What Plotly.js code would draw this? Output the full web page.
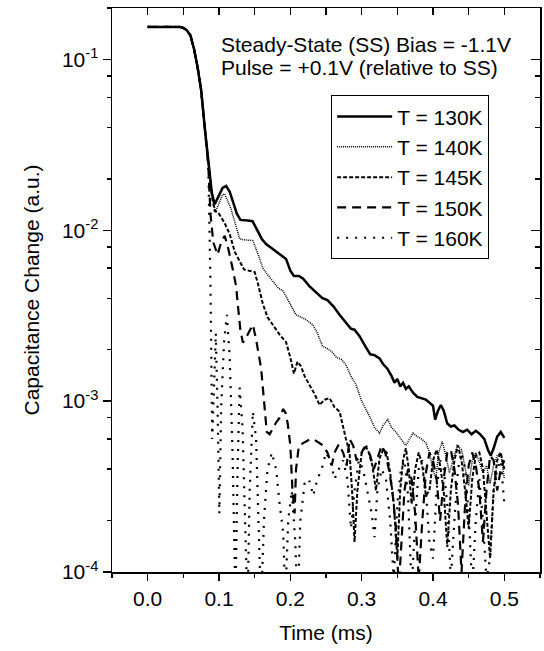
<!DOCTYPE html>
<html>
<head>
<meta charset="utf-8">
<script src="https://cdn.plot.ly/plotly-3.0.1.min.js"></script>
<style>html,body{margin:0;padding:0;background:#fff;}#chart{width:544px;height:651px;}</style>
</head>
<body>
<div id="chart"></div>
<script>
// ---- data (time in ms, capacitance change in a.u.) ----
var t130 = [0,0.01,0.02,0.03,0.04,0.045,0.05,0.055,0.06,0.065,0.07,0.075,0.08,0.085,0.09,0.094,0.1,0.105,0.11,0.115,0.12,0.125,0.13,0.135,0.14,0.147,0.155,0.16,0.166,0.175,0.185,0.194,0.2,0.205,0.212,0.218,0.227,0.235,0.245,0.252,0.26,0.269,0.278,0.285,0.29,0.297,0.305,0.312,0.318,0.325,0.33,0.336,0.342,0.346,0.35,0.354,0.358,0.362,0.366,0.372,0.378,0.384,0.39,0.395,0.4,0.403,0.407,0.411,0.415,0.42,0.425,0.43,0.436,0.442,0.448,0.454,0.46,0.466,0.472,0.477,0.481,0.485,0.49,0.495,0.5];
var c130 = [0.155,0.155,0.155,0.155,0.155,0.155,0.153,0.148,0.138,0.115,0.09,0.066,0.04,0.025,0.0165,0.0142,0.016,0.0177,0.0182,0.0168,0.0145,0.0125,0.0115,0.0114,0.0114,0.0113,0.0098,0.0089,0.0083,0.0078,0.0073,0.0068,0.0058,0.0054,0.0054,0.0052,0.0047,0.0044,0.0040,0.0039,0.0036,0.0032,0.0029,0.00265,0.00262,0.0024,0.0021,0.00188,0.00186,0.00178,0.00165,0.00155,0.0014,0.00128,0.00135,0.00122,0.00128,0.00118,0.00122,0.00112,0.00106,0.00104,0.00102,0.00098,0.00094,0.00078,0.00088,0.00095,0.00088,0.00074,0.00071,0.00072,0.00068,0.00066,0.00068,0.00064,0.00067,0.00064,0.0006,0.00052,0.00048,0.00053,0.00062,0.00066,0.00061];

var t140 = [0,0.01,0.02,0.03,0.04,0.045,0.05,0.055,0.06,0.065,0.07,0.075,0.08,0.085,0.09,0.095,0.1,0.105,0.108,0.112,0.117,0.12,0.124,0.129,0.135,0.1475,0.155,0.1615,0.168,0.1755,0.183,0.19,0.2,0.208,0.215,0.222,0.2315,0.238,0.245,0.25,0.258,0.265,0.272,0.278,0.285,0.292,0.3,0.306,0.312,0.318,0.325,0.33,0.3366,0.342,0.348,0.355,0.362,0.367,0.372,0.378,0.384,0.39,0.395,0.4,0.404,0.408,0.413,0.418,0.423,0.428,0.434,0.44,0.445,0.45,0.455,0.46,0.465,0.47,0.475,0.48,0.485,0.49,0.495,0.5];
var c140 = [0.155,0.155,0.155,0.155,0.155,0.155,0.153,0.148,0.138,0.115,0.09,0.066,0.04,0.025,0.0162,0.0128,0.0145,0.0162,0.0163,0.015,0.0133,0.012,0.0104,0.0089,0.0088,0.0087,0.0072,0.0060,0.0055,0.0050,0.0046,0.0044,0.0037,0.0032,0.0031,0.0030,0.0028,0.0025,0.0021,0.00205,0.00195,0.0018,0.00175,0.00163,0.0014,0.00125,0.0010,0.0009,0.0008,0.0007,0.00065,0.00072,0.00078,0.0007,0.00066,0.0006,0.00055,0.0006,0.00065,0.00062,0.0006,0.00057,0.0005,0.0004,0.00035,0.0005,0.00058,0.00048,0.00038,0.00045,0.00055,0.00052,0.0004,0.00032,0.00045,0.0005,0.00044,0.00038,0.00042,0.00033,0.00042,0.00048,0.0005,0.00035];

var t145 = [0,0.01,0.02,0.03,0.04,0.045,0.05,0.055,0.06,0.065,0.07,0.075,0.08,0.085,0.09,0.094,0.1,0.108,0.115,0.122,0.129,0.135,0.142,0.15,0.155,0.1615,0.168,0.175,0.185,0.194,0.2,0.205,0.21,0.215,0.22,0.227,0.234,0.241,0.248,0.255,0.262,0.269,0.274,0.278,0.283,0.287,0.29,0.294,0.3,0.305,0.31,0.315,0.32,0.325,0.33,0.335,0.34,0.345,0.35,0.354,0.358,0.362,0.366,0.37,0.375,0.38,0.385,0.39,0.395,0.4,0.405,0.41,0.415,0.42,0.425,0.43,0.435,0.44,0.445,0.45,0.455,0.46,0.465,0.47,0.475,0.48,0.485,0.49,0.495,0.5];
var c145 = [0.155,0.155,0.155,0.155,0.155,0.155,0.153,0.148,0.138,0.115,0.09,0.066,0.04,0.025,0.0158,0.013,0.0125,0.011,0.0095,0.0075,0.0066,0.0059,0.0058,0.0057,0.0048,0.0037,0.0031,0.0028,0.00245,0.00222,0.0018,0.00145,0.0017,0.0016,0.0014,0.00124,0.0011,0.00095,0.00102,0.00104,0.00092,0.00087,0.0007,0.0006,0.0005,0.00028,0.00015,0.0003,0.0005,0.00055,0.0005,0.00042,0.0003,0.00046,0.00052,0.0005,0.00038,0.00025,0.00012,0.0003,0.00045,0.00053,0.0004,0.00025,0.0004,0.0005,0.00042,0.00028,0.0003,0.00045,0.00052,0.00042,0.0003,0.00014,0.0003,0.00045,0.00055,0.00045,0.0003,0.00018,0.00035,0.00048,0.0005,0.0004,0.00022,0.00012,0.0003,0.00045,0.0005,0.0004];

var t150 = [0,0.01,0.02,0.03,0.04,0.045,0.05,0.055,0.06,0.065,0.07,0.075,0.08,0.085,0.088,0.092,0.098,0.103,0.108,0.113,0.119,0.124,0.1266,0.13,0.1335,0.139,0.1475,0.152,0.159,0.164,0.167,0.171,0.1755,0.18,0.185,0.19,0.1935,0.1965,0.2,0.203,0.206,0.208,0.212,0.218,0.225,0.232,0.24,0.246,0.252,0.258,0.262,0.268,0.274,0.279,0.283,0.288,0.293,0.297,0.302,0.307,0.312,0.317,0.322,0.328,0.333,0.338,0.343,0.348,0.352,0.356,0.36,0.365,0.37,0.375,0.38,0.385,0.39,0.395,0.4,0.405,0.41,0.415,0.42,0.425,0.43,0.435,0.44,0.445,0.45,0.455,0.46,0.465,0.47,0.475,0.48,0.485,0.49,0.495,0.5];
var c150 = [0.155,0.155,0.155,0.155,0.155,0.155,0.153,0.148,0.138,0.115,0.09,0.066,0.04,0.024,0.0125,0.0085,0.0072,0.0085,0.0093,0.0078,0.006,0.0047,0.0036,0.0026,0.0022,0.0024,0.0028,0.0023,0.00156,0.0009,0.00066,0.00064,0.0007,0.00075,0.0008,0.0009,0.00085,0.00073,0.00055,0.0003,0.00022,0.0004,0.00055,0.00057,0.00059,0.0006,0.00057,0.00055,0.0005,0.00042,0.0005,0.00056,0.0005,0.00042,0.0006,0.00055,0.00045,0.00047,0.00052,0.00054,0.00048,0.0004,0.00046,0.00055,0.0005,0.0004,0.0003,0.00018,0.00008,0.00015,0.0003,0.0004,0.00035,0.00022,0.00009,0.0002,0.00038,0.0005,0.00045,0.00035,0.0002,0.00035,0.0005,0.00052,0.0004,0.00025,0.0001,0.00025,0.00042,0.0005,0.00042,0.0003,0.00015,0.0003,0.00048,0.00045,0.0003,0.0004,0.00045];

var t160 = [0,0.01,0.02,0.03,0.04,0.045,0.05,0.055,0.06,0.065,0.07,0.075,0.08,0.085,0.088,0.0905,0.093,0.0955,0.098,0.1005,0.103,0.107,0.111,0.115,0.119,0.123,0.126,0.129,0.133,0.137,0.14,0.143,0.1475,0.152,0.156,0.159,0.163,0.168,0.174,0.18,0.185,0.19,0.193,0.197,0.202,0.207,0.21,0.214,0.22,0.226,0.232,0.238,0.244,0.25,0.256,0.262,0.268,0.274,0.28,0.285,0.29,0.296,0.302,0.308,0.314,0.318,0.322,0.328,0.334,0.34,0.345,0.35,0.355,0.36,0.365,0.37,0.375,0.38,0.385,0.39,0.395,0.4,0.405,0.41,0.415,0.42,0.425,0.43,0.435,0.44,0.445,0.45,0.455,0.46,0.465,0.47,0.475,0.48,0.485,0.49,0.495,0.5];
var c160 = [0.155,0.155,0.155,0.155,0.155,0.155,0.153,0.148,0.138,0.115,0.09,0.066,0.04,0.024,0.005,0.0006,0.0012,0.0025,0.0009,0.00022,0.0009,0.0022,0.0032,0.0018,0.0005,0.00007,0.0004,0.0012,0.0007,0.0002,0.00006,0.0003,0.00087,0.0006,0.0002,0.00006,0.0002,0.0004,0.0005,0.0004,0.00025,0.00017,0.00007,0.0002,0.0003,0.00015,0.00006,0.0002,0.00033,0.00035,0.00028,0.00035,0.0004,0.0005,0.00045,0.00035,0.0004,0.00045,0.00035,0.00018,0.0003,0.00045,0.0004,0.0003,0.00022,0.00016,0.0003,0.0004,0.00035,0.0002,0.00009,0.00025,0.0004,0.00045,0.00028,0.00008,0.0002,0.0004,0.00045,0.0003,0.00015,0.00012,0.0003,0.00045,0.0004,0.00025,0.00009,0.0002,0.0004,0.0005,0.0004,0.00022,0.00008,0.0002,0.00035,0.0002,0.00009,0.00012,0.0003,0.0004,0.00045,0.00025];

var seriesNames = ["T = 130K","T = 140K","T = 145K","T = 150K","T = 160K"];
var yDecades = [1e-4,1e-3,1e-2,1e-1];
var yDecadeLabels = ["10<sup>-4</sup>","10<sup>-3</sup>","10<sup>-2</sup>","10<sup>-1</sup>"];
var yMinor = [2e-4,4e-4,6e-4,8e-4,2e-3,4e-3,6e-3,8e-3,2e-2,4e-2,6e-2,8e-2,2e-1];
var noteLine1 = "Steady-State (SS) Bias = -1.1V";
var noteLine2 = "Pulse = +0.1V (relative to SS)";

var FONT = "'Liberation Sans', Arial, sans-serif";
var FS = 21;
var styles = [
  {dash:"solid", width:2.5},
  {dash:"1px,1px", width:1.5},
  {dash:"4px,2px", width:2},
  {dash:"9px,6px", width:2.2},
  {dash:"2px,7px", width:2.2}
];
var xs = [t130,t140,t145,t150,t160];
var ys = [c130,c140,c145,c150,c160];
var traces = xs.map(function(x,i){
  return {x:x, y:ys[i], type:"scatter", mode:"lines", name:seriesNames[i],
    line:{color:"#000", width:styles[i].width, dash:styles[i].dash}};
});

var xr = [-0.05,0.55];
var yr = [-4, Math.log10(0.2)];
var layout = {
  width:544, height:651,
  margin:{l:112, r:4, t:8, b:79},
  paper_bgcolor:"#fff", plot_bgcolor:"#fff",
  font:{family:FONT, size:FS, color:"#000"},
  showlegend:true,
  legend:{x:0.512, y:0.845, xanchor:"left", yanchor:"top", bordercolor:"#000", borderwidth:1,
    font:{family:FONT, size:FS, color:"#000"}, itemwidth:55, tracegroupgap:0, bgcolor:"#fff"},
  xaxis:{range:xr, showgrid:false, zeroline:false, showline:true, linecolor:"#000", linewidth:1.5,
    ticks:"outside", ticklen:7, tickwidth:1.5, tickcolor:"#000", tick0:0, dtick:0.1, tickformat:".1f",
    minor:{dtick:0.05, tick0:0, ticks:"outside", ticklen:4, tickwidth:1.5, tickcolor:"#000"},
    title:{text:"Time (ms)", font:{family:FONT, size:FS}, standoff:16},
    tickfont:{family:FONT, size:FS}},
  xaxis2:{range:xr, overlaying:"x", side:"top", anchor:"y", showgrid:false, zeroline:false, showline:true,
    linecolor:"#000", linewidth:1.5, ticks:"inside", ticklen:7, tickwidth:1.5, tickcolor:"#000",
    tick0:0, dtick:0.05, showticklabels:false},
  yaxis:{type:"log", range:yr, showgrid:false, zeroline:false, showline:true, linecolor:"#000", linewidth:1.5,
    tickmode:"array", tickvals:yDecades, ticktext:yDecadeLabels, ticks:"outside", ticklen:8, tickwidth:1.5, tickcolor:"#000",
    minor:{tickmode:"array", tickvals:yMinor, ticks:"outside", ticklen:4, tickwidth:1.5, tickcolor:"#000"},
    title:{text:"Capacitance Change (a.u.)", font:{family:FONT, size:FS}, standoff:16},
    tickfont:{family:FONT, size:FS}},
  yaxis2:{type:"log", range:yr, overlaying:"y", side:"right", anchor:"x", showgrid:false, zeroline:false, showline:true,
    linecolor:"#000", linewidth:1.5, tickmode:"array", tickvals:yDecades, ticks:"inside", ticklen:9, tickwidth:1.5, tickcolor:"#000",
    minor:{tickmode:"array", tickvals:yMinor, ticks:"inside", ticklen:5, tickwidth:1.5, tickcolor:"#000"},
    showticklabels:false},
  annotations:[
    {xref:"paper", yref:"paper", x:0.25, y:0.936, xanchor:"left", yanchor:"middle", text:noteLine1, showarrow:false, font:{family:FONT, size:FS}},
    {xref:"paper", yref:"paper", x:0.25, y:0.894, xanchor:"left", yanchor:"middle", text:noteLine2, showarrow:false, font:{family:FONT, size:FS}}
  ]
};
// helper traces so overlay axes are rendered (no visible marks)
traces.push({x:[], y:[], xaxis:"x2", yaxis:"y", showlegend:false, hoverinfo:"skip"});
traces.push({x:[], y:[], xaxis:"x", yaxis:"y2", showlegend:false, hoverinfo:"skip"});
Plotly.newPlot("chart", traces, layout, {staticPlot:true, displayModeBar:false});
</script>
</body>
</html>
